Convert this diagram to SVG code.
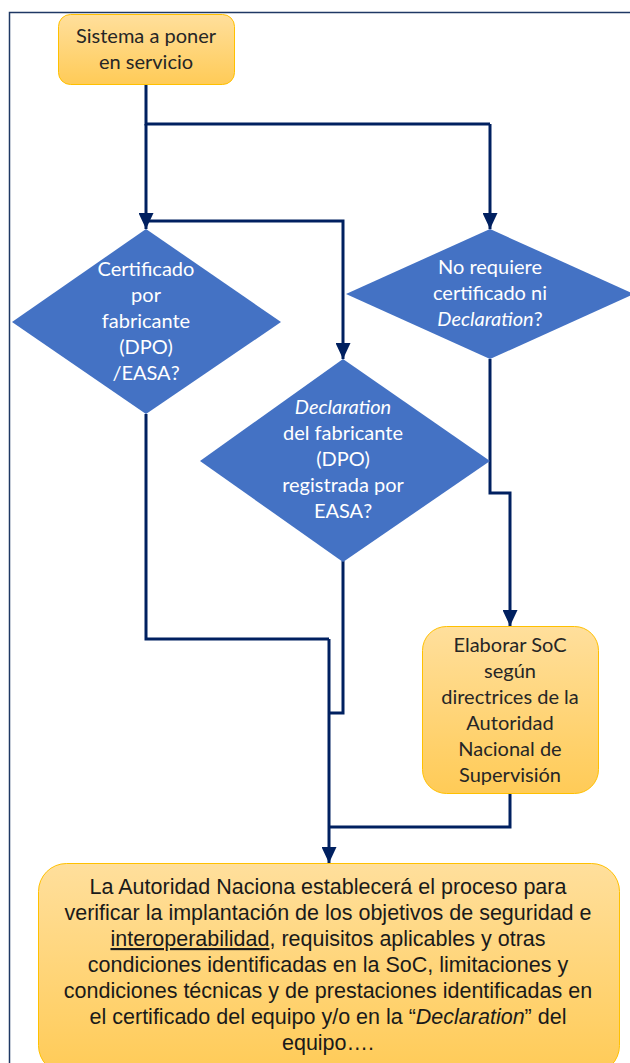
<svg xmlns="http://www.w3.org/2000/svg" width="630" height="1063" viewBox="0 0 630 1063">
<style>
.frame{fill:none;stroke:#1F3864;stroke-width:1.5}
.box{stroke:#FFC000;stroke-width:1;fill:url(#og)}
.dia{fill:#4472C4}
.c{fill:none;stroke:#002060;stroke-width:3}
.ca{fill:none;stroke:#002060;stroke-width:3;marker-end:url(#ah)}
.t{font-family:Lato,"Open Sans",sans-serif;font-size:20px;fill:#262626;text-anchor:middle}
.w{font-family:Lato,"Open Sans",sans-serif;font-size:20px;fill:#FFFFFF;text-anchor:middle}
.b{font-family:"Liberation Sans",Arial,sans-serif;font-size:21.5px;fill:#1a1a1a;text-anchor:middle}
.i{font-style:italic}
.u{text-decoration:underline}
</style>
<defs>
<linearGradient id="og" x1="0" y1="0" x2="0" y2="1">
<stop offset="0" stop-color="#FFDF9C"/>
<stop offset="1" stop-color="#FFCB57"/>
</linearGradient>
<marker id="ah" markerUnits="userSpaceOnUse" markerWidth="16" markerHeight="15" refX="16" refY="7.5" orient="auto">
<path d="M0,0 L16,7.5 L0,15 Z" fill="#002060"/>
</marker>
</defs>
<rect x="0" y="0" width="630" height="1063" fill="#FFFFFF"/>
<path class="frame" d="M9.5,1063 V12.5 H630"/>
<g id="connectors">
<path class="c" d="M146,84 V124 H490"/>
<path class="ca" d="M490,124 V229"/>
<path class="ca" d="M146,124 V229"/>
<path class="ca" d="M146,221 H343 V359"/>
<path class="ca" d="M490,359 V493 H510 V626"/>
<path class="c" d="M146,414 V639 H329"/>
<path class="c" d="M343,561 V713 H329"/>
<path class="c" d="M510,793 V827 H329"/>
<path class="ca" d="M329,639 V863"/>
</g>
<g id="start">
<rect class="box" x="58.5" y="14.5" width="176" height="70" rx="12"/>
<text class="t" x="146" y="43">Sistema a poner</text>
<text class="t" x="146" y="69">en servicio</text>
</g>
<g id="dec-certificado">
<polygon class="dia" points="146,229 281,322 146,414 12,322"/>
<text class="w" x="146" y="276">Certificado</text>
<text class="w" x="146" y="302">por</text>
<text class="w" x="146" y="328">fabricante</text>
<text class="w" x="146" y="354">(DPO)</text>
<text class="w" x="146" y="380">/EASA?</text>
</g>
<g id="dec-norequiere">
<polygon class="dia" points="490,229 634,294 490,359 346,294"/>
<text class="w" x="490" y="274">No requiere</text>
<text class="w" x="490" y="300">certificado ni</text>
<text class="w" x="490" y="326"><tspan class="i">Declaration</tspan>?</text>
</g>
<g id="dec-declaration">
<polygon class="dia" points="343,359 490,461 343,562 200,461"/>
<text class="w i" x="343" y="414">Declaration</text>
<text class="w" x="343" y="440">del fabricante</text>
<text class="w" x="343" y="466">(DPO)</text>
<text class="w" x="343" y="492">registrada por</text>
<text class="w" x="343" y="518">EASA?</text>
</g>
<g id="elaborar">
<rect class="box" x="422.5" y="626.5" width="176" height="167" rx="24"/>
<text class="t" x="510" y="652">Elaborar SoC</text>
<text class="t" x="510" y="678">según</text>
<text class="t" x="510" y="704">directrices de la</text>
<text class="t" x="510" y="730">Autoridad</text>
<text class="t" x="510" y="756">Nacional de</text>
<text class="t" x="510" y="782">Supervisión</text>
</g>
<g id="final">
<rect class="box" x="38.5" y="863.5" width="581" height="210" rx="28"/>
<text class="b" x="328" y="894">La Autoridad Naciona establecerá el proceso para</text>
<text class="b" x="328" y="920">verificar  la implantación de los objetivos de seguridad e</text>
<text class="b" x="328" y="946"><tspan class="u">interoperabilidad</tspan>, requisitos aplicables y otras</text>
<text class="b" x="328" y="972">condiciones identificadas en la SoC, limitaciones y</text>
<text class="b" x="328" y="998">condiciones técnicas y de prestaciones identificadas en</text>
<text class="b" x="328" y="1024">el certificado del equipo y/o en la “<tspan class="i">Declaration</tspan>” del</text>
<text class="b" x="328" y="1050">equipo….</text>
</g>
</svg>
